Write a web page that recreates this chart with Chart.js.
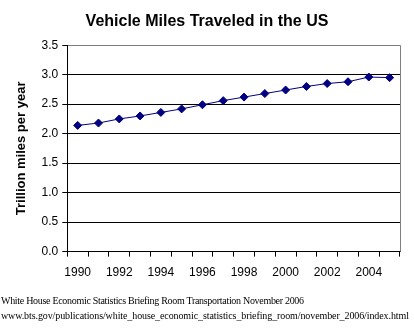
<!DOCTYPE html>
<html>
<head>
<meta charset="utf-8">
<script src="https://cdn.jsdelivr.net/npm/chart.js@4"></script>
<style>
    html, body { margin: 0; padding: 0; background: #fff; }
    #wrap { position: relative; width: 414px; height: 332px; }
    canvas { position: absolute; left: 0; top: 0; }
    .src { position: absolute; left: 1px; font: 10px "Liberation Serif", "Times New Roman", serif;
           color: #000; white-space: nowrap; letter-spacing: -0.1px; }
</style>
</head>
<body>
<div id="wrap">
    <canvas id="vmt" width="414" height="332"></canvas>
    <div class="src" style="top:295px; letter-spacing:-0.3px">White House Economic Statistics Briefing Room Transportation November 2006</div>
    <div class="src" style="top:310px">www.bts.gov/publications/white_house_economic_statistics_briefing_room/november_2006/index.html</div>
</div>
<script>
const years = ['1990', '1991', '1992', '1993', '1994', '1995', '1996', '1997',
               '1998', '1999', '2000', '2001', '2002', '2003', '2004', '2005'];
// trillion miles per year
const milesTraveled = [2.14, 2.18, 2.25, 2.30, 2.36, 2.42, 2.49, 2.56,
                       2.62, 2.68, 2.74, 2.80, 2.85, 2.88, 2.96, 2.95];
const yTicks = [0, 0.5, 1.0, 1.5, 2.0, 2.5, 3.0, 3.5];

const navy = '#000080';

// gray frame on the right edge, like the Excel plot area
const frame = {
    id: 'frame',
    afterDraw(chart) {
        const { ctx, chartArea: a } = chart;
        ctx.save();
        ctx.strokeStyle = '#808080';
        ctx.lineWidth = 1;
        ctx.beginPath();
        ctx.moveTo(Math.round(a.right) + 0.5, a.top);
        ctx.lineTo(Math.round(a.right) + 0.5, a.bottom);
        ctx.stroke();
        ctx.restore();
    },
};

new Chart(document.getElementById('vmt'), {
    type: 'line',
    data: {
        labels: years,
        datasets: [{
            data: milesTraveled,
            borderColor: navy,
            backgroundColor: navy,
            borderWidth: 1,
            pointStyle: 'rectRot',
            pointRadius: 4,
            pointBorderWidth: 1,
            tension: 0,
        }],
    },
    options: {
        responsive: false,
        animation: false,
        layout: { padding: { left: 14, right: 14, top: 0, bottom: 43 } },
        plugins: {
            legend: { display: false },
            tooltip: { enabled: false },
            title: {
                display: true,
                text: 'Vehicle Miles Traveled in the US',
                color: '#000',
                font: { family: 'Arial', size: 16, weight: 'bold' },
                padding: { top: 12, bottom: 14 },
            },
        },
        scales: {
            x: {
                offset: true,
                grid: { display: true, drawOnChartArea: false, offset: true,
                        color: '#000', tickLength: 5, tickColor: '#000' },
                border: { color: '#000' },
                ticks: {
                    color: '#000', maxRotation: 0, autoSkip: false,
                    font: { family: 'Arial', size: 12 },
                    padding: 9,
                    callback(v, i) { return i % 2 === 0 && i < 15 ? years[i] : ''; },
                },
            },
            y: {
                min: 0, max: 3.5,
                afterBuildTicks(axis) { axis.ticks = yTicks.map(v => ({ value: v })); },
                grid: {
                    color: ctx => ctx.tick && ctx.tick.value === 3.5 ? '#808080' : '#000',
                    tickColor: '#000', tickLength: 5,
                },
                border: { color: '#000' },
                ticks: {
                    color: '#000', padding: 4,
                    font: { family: 'Arial', size: 12 },
                    callback: v => v.toFixed(1),
                },
                title: {
                    display: true,
                    text: 'Trillion miles per year',
                    color: '#000',
                    font: { family: 'Arial', size: 13, weight: 'bold' },
                    padding: { top: 0, bottom: 8 },
                },
            },
        },
    },
    plugins: [frame],
});
</script>
</body>
</html>
